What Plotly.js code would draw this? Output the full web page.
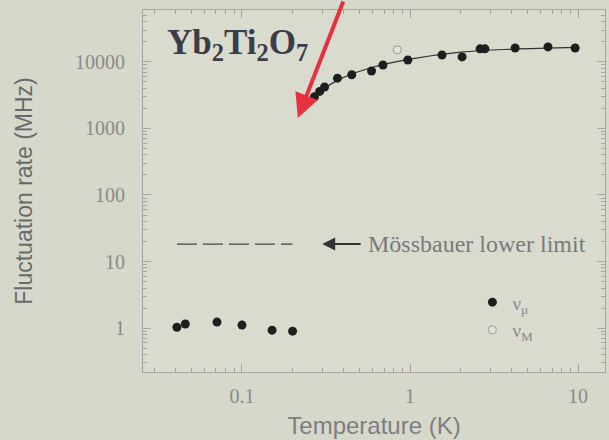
<!DOCTYPE html>
<html>
<head>
<meta charset="utf-8">
<script src="https://cdn.plot.ly/plotly-3.0.1.min.js"></script>
<style>html,body{margin:0;padding:0;background:#d6d8cb;}#chart{width:609px;height:440px;}</style>
</head>
<body>
<div id="chart"></div>
<script>
// nu_mu (filled) low temperature
const lowT   = [0.041, 0.046, 0.071, 0.100, 0.151, 0.200];
const lowNu  = [1.03, 1.15, 1.23, 1.11, 0.93, 0.90];
// nu_mu (filled) high temperature
const highT  = [0.27, 0.29, 0.31, 0.37, 0.45, 0.59, 0.69, 0.97, 1.55, 2.04, 2.61, 2.79, 4.22, 6.62, 9.6];
const highNu = [3000, 3600, 4200, 5700, 6400, 7300, 9000, 10700, 12700, 11900, 15700, 15700, 16200, 16800, 16200];
// nu_M (open)
const mT  = [0.84];
const mNu = [15200];
// fit curve
const fitT  = [0.25, 0.3, 0.4, 0.6, 1, 2, 4, 10];
const fitNu = [2500, 3800, 5800, 8300, 11000, 14000, 15500, 16500];
// Mossbauer lower limit
const limitT  = [0.041, 0.20];
const limitNu = [18.3, 18.3];
const limitArrowT = 0.30, limitTextT = 0.55;
// red arrow tip
const redTipT = 0.215, redTipNu = 1440;

const xTickVals = [0.1, 1, 10];
const xTickText = ['0.1', '1', '10'];
const yTickVals = [1, 10, 100, 1000, 10000];
const yTickText = ['1', '10', '100', '1000', '10000'];

function minors(lo, hi) {
  const v = [];
  for (let e = lo; e <= hi; e++) for (let m = 2; m <= 9; m++) v.push(m * Math.pow(10, e));
  return v;
}

const serif = 'Liberation Serif, DejaVu Serif, serif';
const sans = 'Liberation Sans, Arial, sans-serif';
const frame = '#aaa3a3';

const traces = [
  {x: fitT, y: fitNu, mode: 'lines', line: {color: '#333', width: 1.2, shape: 'spline'}, showlegend: false, hoverinfo: 'skip'},
  {x: limitT, y: limitNu, mode: 'lines', line: {color: '#444', width: 1.2, dash: '20px,6px'}, showlegend: false},
  {x: highT.concat([null]).concat(lowT), y: highNu.concat([null]).concat(lowNu), mode: 'markers', name: 'ν<sub>μ</sub>',
   marker: {color: '#1e1e1e', size: 9, symbol: 'circle'}},
  {x: mT, y: mNu, mode: 'markers', name: 'ν<sub>M</sub>',
   marker: {color: '#e4e4da', size: 8, symbol: 'circle', line: {color: '#999', width: 1}}}
];

const layout = {
  width: 609, height: 440,
  margin: {l: 143, r: 4, t: 10, b: 68},
  paper_bgcolor: '#d6d8cb',
  plot_bgcolor: '#d9dbcf',
  showlegend: true,
  legend: {x: 0.713, y: 0.245, xanchor: 'left', yanchor: 'top', bgcolor: 'rgba(0,0,0,0)',
           font: {family: serif, size: 19, color: '#8a8a8a'}, tracegroupgap: 0},
  xaxis: {
    type: 'log', range: [-1.589, 1.16],
    tickvals: xTickVals, ticktext: xTickText,
    ticks: 'inside', ticklen: 8, tickcolor: frame,
    minor: {tickvals: minors(-2, 1), ticks: 'inside', ticklen: 4, tickcolor: frame},
    showline: true, linecolor: frame, linewidth: 1, mirror: 'allticks',
    showgrid: false, zeroline: false,
    tickfont: {family: serif, size: 20, color: '#8a8a8a'},
    ticklabelstandoff: 6,
    title: {text: 'Temperature (K)', font: {family: sans, size: 24, color: '#7e7e7e'}, standoff: 11}
  },
  yaxis: {
    type: 'log', range: [-0.66, 4.78],
    tickvals: yTickVals, ticktext: yTickText,
    ticks: 'inside', ticklen: 8, tickcolor: frame,
    minor: {tickvals: minors(-1, 4), ticks: 'inside', ticklen: 4, tickcolor: frame},
    showline: true, linecolor: frame, linewidth: 1, mirror: 'allticks',
    showgrid: false, zeroline: false,
    tickfont: {family: serif, size: 20, color: '#8a8a8a'},
    ticklabelstandoff: 13,
    title: {text: 'Fluctuation rate (MHz)', font: {family: sans, size: 23, color: '#6a6a6a'}, standoff: 35}
  },
  annotations: [
    {xref: 'paper', yref: 'paper', x: 0.047, y: 0.905, xanchor: 'left', yanchor: 'middle', showarrow: false,
     text: '<b>Yb<sub>2</sub>Ti<sub>2</sub>O<sub>7</sub></b>', font: {family: serif, size: 35, color: '#3d3d48'}},
    {x: Math.log10(limitTextT), y: Math.log10(limitNu[0]), xanchor: 'left', yanchor: 'middle', showarrow: false,
     text: 'Mössbauer lower limit', font: {family: serif, size: 24, color: '#7a7a7a'}},
    {x: Math.log10(limitArrowT), y: Math.log10(limitNu[0]), text: '', showarrow: true, axref: 'pixel', ayref: 'pixel',
     ax: 40, ay: 0, arrowhead: 2, arrowsize: 1.3, arrowwidth: 2, arrowcolor: '#333', standoff: 0},
    {x: Math.log10(redTipT), y: Math.log10(redTipNu), text: '', showarrow: true, axref: 'pixel', ayref: 'pixel',
     ax: 46, ay: -122, arrowhead: 2, arrowsize: 1.2, arrowwidth: 4, arrowcolor: '#e5323e', standoff: 0}
  ]
};

Plotly.newPlot('chart', traces, layout, {displayModeBar: false, staticPlot: true});
</script>
</body>
</html>
